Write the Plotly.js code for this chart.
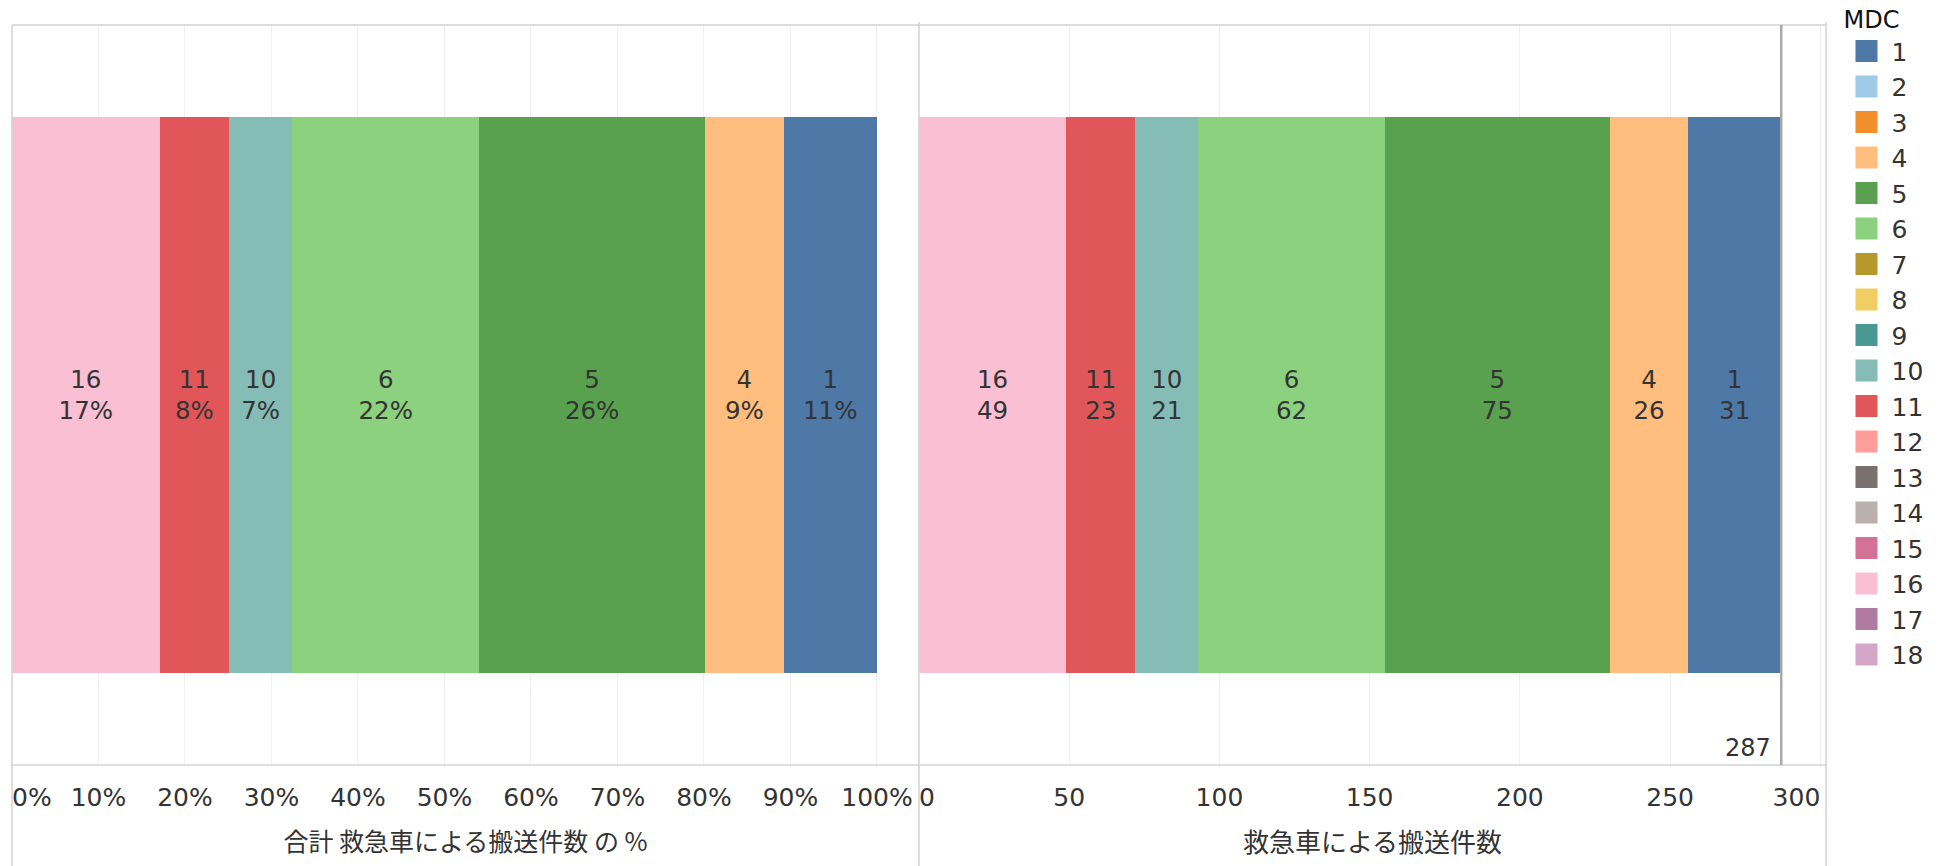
<!DOCTYPE html>
<html>
<head>
<meta charset="utf-8">
<script src="https://cdn.plot.ly/plotly-3.0.1.min.js"></script>
<style>
  html, body { margin: 0; padding: 0; background: #ffffff; }
  #chart { width: 1941px; height: 866px; }
</style>
</head>
<body>
<div id="chart"></div>
<script>
// ---- Data ----
const mdcAll = ['1','2','3','4','5','6','7','8','9','10','11','12','13','14','15','16','17','18'];
const mdcColors = ['#4E79A7','#A0CBE8','#F28E2B','#FFBE7D','#59A14F','#8CD17D','#B6992D','#F1CE63','#499894',
                   '#86BCB6','#E15759','#FF9D9A','#79706E','#BAB0AC','#D37295','#FABFD2','#B07AA1','#D4A6C8'];
// stacking order left -> right
const barMdc = ['16','11','10','6','5','4','1'];
const barCounts = [49, 23, 21, 62, 75, 26, 31];
const totalLabel = 287;
const pctTickVals = [0, 0.1, 0.2, 0.3, 0.4, 0.5, 0.6, 0.7, 0.8, 0.9, 1.0];
const pctTickText = ['0%','10%','20%','30%','40%','50%','60%','70%','80%','90%','100%'];
const cntTickVals = [0, 50, 100, 150, 200, 250, 300];
const cntTickText = ['0','50','100','150','200','250','300'];
const xTitleLeft = '合計 救急車による搬送件数 の %';
const xTitleRight = '救急車による搬送件数';
const legendTitle = 'MDC';

// ---- Styling ----
const FONT = '"DejaVu Sans", "Noto Sans CJK JP", "Noto Sans", sans-serif';
const CJK = '"Noto Sans CJK JP", "DejaVu Sans", sans-serif';
const TXT = '#333333';
const GRID = '#efefef';
const BORDER = '#d2d2d2';
const BAR_FS = 24.5;

const total = barCounts.reduce((a, b) => a + b, 0);
const traces = [];

barMdc.forEach((m, i) => {
  const idx = mdcAll.indexOf(m);
  const color = mdcColors[idx];
  const frac = barCounts[i] / total;
  traces.push({
    type: 'bar', orientation: 'h', name: m, legendgroup: m, legendrank: idx + 1,
    x: [frac], y: [0], width: [0.751], xaxis: 'x', yaxis: 'y',
    marker: { color: color, line: { width: 0 } },
    text: [m + '<br>' + Math.round(frac * 100) + '%'],
    textposition: 'inside', insidetextanchor: 'middle', textangle: 0,
    constraintext: 'none', textfont: { family: FONT, size: BAR_FS, color: TXT },
    hoverinfo: 'none', showlegend: true
  });
  traces.push({
    type: 'bar', orientation: 'h', name: m, legendgroup: m, legendrank: idx + 1,
    x: [barCounts[i]], y: [0], width: [0.751], xaxis: 'x2', yaxis: 'y',
    marker: { color: color, line: { width: 0 } },
    text: [m + '<br>' + barCounts[i]],
    textposition: 'inside', insidetextanchor: 'middle', textangle: 0,
    constraintext: 'none', textfont: { family: FONT, size: BAR_FS, color: TXT },
    hoverinfo: 'none', showlegend: false
  });
});
// legend entries for MDCs without bars (zero-length, invisible in the plot)
mdcAll.forEach((m, idx) => {
  if (barMdc.indexOf(m) >= 0) return;
  traces.push({
    type: 'bar', orientation: 'h', name: m, legendgroup: m, legendrank: idx + 1,
    x: [0], y: [0], width: [0.751], xaxis: 'x', yaxis: 'y',
    marker: { color: mdcColors[idx], line: { width: 0 } },
    hoverinfo: 'none', showlegend: true
  });
});
// empty traces that only register the overlay axes carrying the edge tick labels
['x3', 'x4', 'x5'].forEach(ax => {
  traces.push({ type: 'scatter', mode: 'markers', x: [], y: [], xaxis: ax, yaxis: 'y',
                hoverinfo: 'none', showlegend: false });
});

// edge tick labels are drawn by overlay axes so they sit inside the panes
const pctTextMain = pctTickText.map((t, i) => (i === 0 ? '' : t));
const cntTextMain = cntTickText.map((t, i) => (i === 0 || i === cntTickText.length - 1 ? '' : t));

const W = 1941, H = 866;
const L = 12, R = 1941 - 1826, T = 25, B = 101;
const pw = W - L - R, ph = H - T - B;
const px = (x) => (x - L) / pw;
const py = (y) => (H - B - y) / ph;

const tickFont = { family: FONT, size: 25, color: TXT };
const axisCommon = {
  showgrid: true, gridcolor: GRID, gridwidth: 1, zeroline: false, showline: false,
  ticks: '', ticklabelstandoff: 15, ticklabeloverflow: 'allow', fixedrange: true,
  tickfont: tickFont
};
const edgeAxis = (over, range, val, txt, pos) => ({
  overlaying: over, anchor: 'y', side: 'bottom', range: range,
  showgrid: false, zeroline: false, showline: false, ticks: '',
  tickmode: 'array', tickvals: [val], ticktext: [txt], ticklabelposition: pos,
  ticklabelstandoff: 15, ticklabeloverflow: 'allow', tickfont: tickFont, fixedrange: true
});

const layout = {
  width: W, height: H,
  margin: { l: L, r: R, t: T, b: B, pad: 0 },
  paper_bgcolor: '#ffffff', plot_bgcolor: '#ffffff',
  barmode: 'stack', showlegend: true,
  font: { family: FONT, color: TXT },
  xaxis: Object.assign({}, axisCommon, {
    domain: [0, 0.5], range: [0, 1.0486], anchor: 'y',
    tickmode: 'array', tickvals: pctTickVals, ticktext: pctTextMain,
    title: { text: xTitleLeft, font: { family: CJK, size: 25, color: TXT }, standoff: 22 }
  }),
  xaxis2: Object.assign({}, axisCommon, {
    domain: [0.5, 1], range: [0, 301.9], anchor: 'y',
    tickmode: 'array', tickvals: cntTickVals, ticktext: cntTextMain,
    title: { text: xTitleRight, font: { family: CJK, size: 26, color: TXT }, standoff: 22 }
  }),
  xaxis3: edgeAxis('x', [0, 1.0486], pctTickVals[0], pctTickText[0], 'outside right'),
  xaxis4: edgeAxis('x2', [0, 301.9], cntTickVals[0], cntTickText[0], 'outside right'),
  xaxis5: edgeAxis('x2', [0, 301.9], cntTickVals[cntTickVals.length - 1], cntTickText[cntTickText.length - 1], 'outside left'),
  yaxis: {
    domain: [0, 1], range: [-0.5, 0.5], showgrid: false, zeroline: false,
    showticklabels: false, ticks: '', showline: false, fixedrange: true
  },
  legend: {
    x: px(1825), xanchor: 'left', y: 1, yanchor: 'top',
    font: { family: FONT, size: 25, color: TXT },
    title: { text: legendTitle, font: { family: FONT, size: 24, color: '#111111' } },
    traceorder: 'normal', bgcolor: 'rgba(0,0,0,0)', borderwidth: 0, itemwidth: 40,
    itemclick: false, itemdoubleclick: false
  },
  shapes: [
    // pane borders
    { type: 'line', xref: 'paper', yref: 'paper', x0: 0, x1: 1, y0: 1, y1: 1, line: { color: BORDER, width: 1.5 } },
    { type: 'line', xref: 'paper', yref: 'paper', x0: 0, x1: 1, y0: 0, y1: 0, line: { color: BORDER, width: 1.5 } },
    { type: 'line', xref: 'paper', yref: 'paper', x0: 0, x1: 0, y0: py(H), y1: 1, line: { color: BORDER, width: 1.5 } },
    { type: 'line', xref: 'paper', yref: 'paper', x0: 0.5, x1: 0.5, y0: py(H), y1: py(22), line: { color: BORDER, width: 1.5 } },
    { type: 'line', xref: 'paper', yref: 'paper', x0: 1, x1: 1, y0: py(H), y1: py(22), line: { color: BORDER, width: 1.5 } },
    // total reference line
    { type: 'line', xref: 'x2', yref: 'paper', x0: totalLabel, x1: totalLabel, y0: 0, y1: 1, line: { color: '#a9a9a9', width: 2.5 } }
  ],
  annotations: [
    { xref: 'x2', yref: 'paper', x: totalLabel, y: py(748), xanchor: 'right', yanchor: 'middle',
      xshift: -8, text: String(totalLabel), showarrow: false,
      font: { family: FONT, size: 24, color: TXT } }
  ]
};

// enlarge legend swatches and place the legend like the reference
function fixLegend() {
  const leg = document.querySelector('g.legend');
  if (!leg || leg.dataset.fixed) return;
  leg.querySelectorAll('.legendpoints path').forEach(p => p.setAttribute('d', 'M11,11H-11V-11H11Z'));
  const first = leg.querySelector('g.traces .legendpoints path');
  if (!first) return;
  const r = first.getBoundingClientRect();
  const host = document.getElementById('chart').getBoundingClientRect();
  const cx = r.left - host.left + r.width / 2;
  const cy = r.top - host.top + r.height / 2;
  const dx = 1866.5 - cx, dy = 51 - cy;
  const tr = leg.getAttribute('transform') || 'translate(0,0)';
  const m = tr.match(/translate\(\s*([-\d.e]+)[ ,]+([-\d.e]+)\s*\)/);
  const tx = m ? parseFloat(m[1]) : 0, ty = m ? parseFloat(m[2]) : 0;
  leg.setAttribute('transform', 'translate(' + (tx + dx) + ',' + (ty + dy) + ')');
  leg.dataset.fixed = '1';
}

Plotly.newPlot('chart', traces, layout, { displayModeBar: false, staticPlot: true }).then(() => {
  fixLegend();
});
</script>
</body>
</html>
